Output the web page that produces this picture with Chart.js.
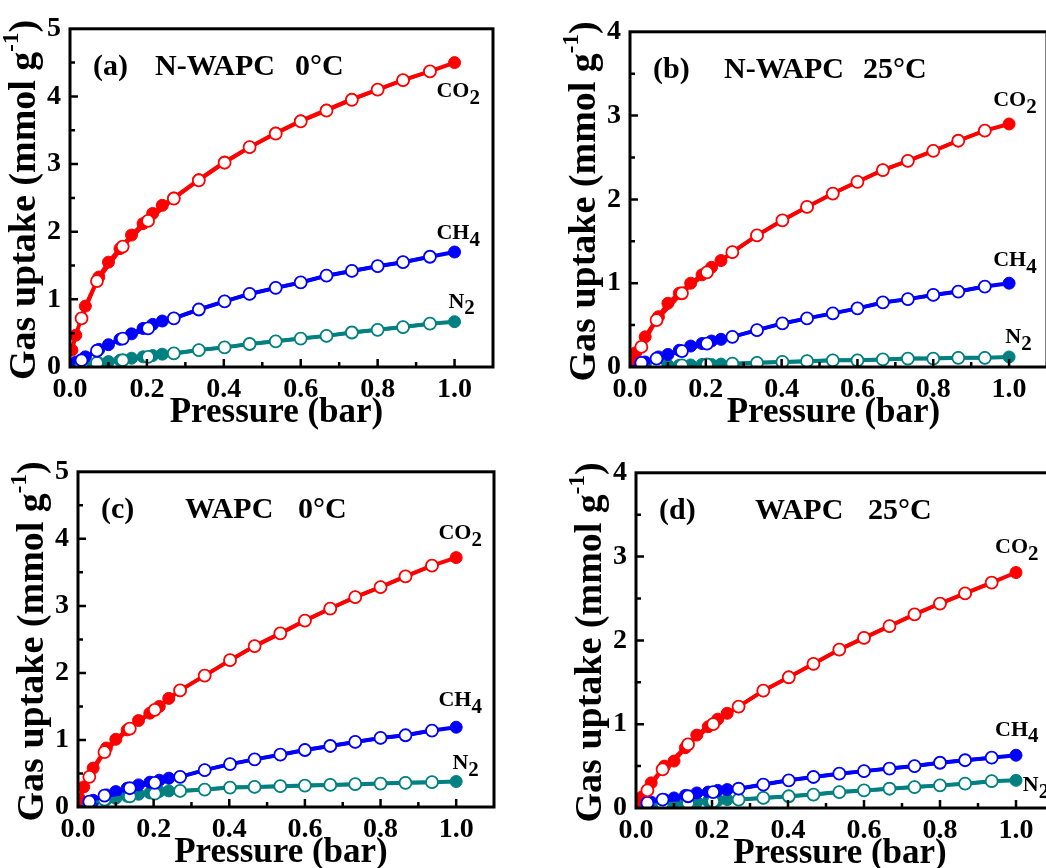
<!DOCTYPE html>
<html>
<head>
<meta charset="utf-8">
<script src="https://cdn.jsdelivr.net/npm/chart.js@4.4.0/dist/chart.umd.min.js"></script>
<style>
  html, body { margin: 0; padding: 0; background: #fff; overflow: hidden; width: 1046px; height: 868px; }
  canvas { position: absolute; }
</style>
</head>
<body>
<canvas id="c0"></canvas>
<canvas id="c1"></canvas>
<canvas id="c2"></canvas>
<canvas id="c3"></canvas>
<script>
// pressures (bar): adsorption = filled symbols, desorption = open symbols
var adsP = [0.005, 0.015, 0.04, 0.075, 0.1, 0.13, 0.16, 0.19, 0.215, 0.24, 0.27, 0.335, 0.402, 0.467, 0.535, 0.6, 0.667, 0.733, 0.8, 0.866, 0.936, 1.0];
var desP = [0.03, 0.07, 0.137, 0.203, 0.27, 0.335, 0.402, 0.467, 0.535, 0.6, 0.667, 0.733, 0.8, 0.866, 0.936];

// (a) N-WAPC 0°C
var aCO2ads = [0.25, 0.47, 0.9, 1.33, 1.55, 1.75, 1.95, 2.12, 2.27, 2.39, 2.5, 2.77, 3.03, 3.25, 3.46, 3.64, 3.8, 3.96, 4.1, 4.24, 4.37, 4.5];
var aCO2des = [0.72, 1.27, 1.78, 2.16, 2.49, 2.76, 3.02, 3.25, 3.45, 3.63, 3.79, 3.95, 4.1, 4.24, 4.37];
var aCH4ads = [0.03, 0.07, 0.15, 0.26, 0.33, 0.41, 0.49, 0.57, 0.63, 0.68, 0.72, 0.85, 0.97, 1.08, 1.17, 1.25, 1.35, 1.42, 1.49, 1.55, 1.63, 1.7];
var aCH4des = [0.1, 0.24, 0.42, 0.57, 0.72, 0.85, 0.97, 1.08, 1.17, 1.25, 1.35, 1.42, 1.49, 1.55, 1.63];
var aN2ads = [0.01, 0.02, 0.04, 0.06, 0.08, 0.1, 0.13, 0.15, 0.17, 0.19, 0.2, 0.25, 0.29, 0.34, 0.38, 0.42, 0.46, 0.51, 0.55, 0.59, 0.64, 0.67];
var aN2des = [0.03, 0.06, 0.1, 0.15, 0.2, 0.25, 0.29, 0.34, 0.38, 0.42, 0.46, 0.51, 0.55, 0.59, 0.64];

// (b) N-WAPC 25°C
var bCO2ads = [0.1, 0.17, 0.36, 0.6, 0.76, 0.88, 1.0, 1.1, 1.19, 1.27, 1.37, 1.57, 1.75, 1.91, 2.07, 2.21, 2.35, 2.46, 2.58, 2.7, 2.82, 2.9];
var bCO2des = [0.24, 0.56, 0.88, 1.13, 1.37, 1.57, 1.75, 1.91, 2.07, 2.21, 2.35, 2.46, 2.58, 2.7, 2.82];
var bCH4ads = [0.02, 0.04, 0.06, 0.12, 0.15, 0.2, 0.25, 0.28, 0.31, 0.33, 0.36, 0.44, 0.52, 0.58, 0.64, 0.7, 0.77, 0.81, 0.86, 0.9, 0.96, 1.0];
var bCH4des = [0.05, 0.1, 0.19, 0.28, 0.36, 0.44, 0.52, 0.58, 0.64, 0.7, 0.77, 0.81, 0.86, 0.9, 0.96];
var bN2ads = [0.0, 0.005, 0.01, 0.015, 0.02, 0.02, 0.025, 0.03, 0.03, 0.035, 0.04, 0.05, 0.06, 0.07, 0.08, 0.08, 0.09, 0.1, 0.1, 0.11, 0.11, 0.12];
var bN2des = [0.01, 0.01, 0.02, 0.03, 0.04, 0.05, 0.06, 0.07, 0.08, 0.08, 0.09, 0.1, 0.1, 0.11, 0.11];

// (c) WAPC 0°C
var cCO2ads = [0.12, 0.3, 0.58, 0.88, 1.01, 1.15, 1.29, 1.4, 1.5, 1.62, 1.74, 1.96, 2.19, 2.4, 2.59, 2.78, 2.96, 3.13, 3.28, 3.44, 3.6, 3.72];
var cCO2des = [0.45, 0.82, 1.17, 1.45, 1.74, 1.96, 2.19, 2.4, 2.59, 2.78, 2.96, 3.13, 3.28, 3.44, 3.6];
var cCH4ads = [0.03, 0.06, 0.1, 0.18, 0.23, 0.28, 0.33, 0.37, 0.4, 0.43, 0.45, 0.55, 0.64, 0.71, 0.78, 0.85, 0.91, 0.97, 1.03, 1.07, 1.14, 1.19];
var cCH4des = [0.08, 0.17, 0.28, 0.36, 0.45, 0.55, 0.64, 0.71, 0.78, 0.85, 0.91, 0.97, 1.03, 1.07, 1.14];
var cN2ads = [0.02, 0.04, 0.08, 0.11, 0.13, 0.16, 0.19, 0.21, 0.23, 0.24, 0.24, 0.26, 0.29, 0.3, 0.31, 0.32, 0.33, 0.34, 0.35, 0.36, 0.37, 0.38];
var cN2des = [0.06, 0.11, 0.16, 0.2, 0.24, 0.26, 0.29, 0.3, 0.31, 0.32, 0.33, 0.34, 0.35, 0.36, 0.37];

// (d) WAPC 25°C
var dCO2ads = [0.08, 0.13, 0.3, 0.5, 0.56, 0.72, 0.87, 0.97, 1.06, 1.13, 1.21, 1.4, 1.56, 1.72, 1.89, 2.03, 2.17, 2.31, 2.44, 2.56, 2.69, 2.81];
var dCO2des = [0.21, 0.46, 0.76, 1.0, 1.21, 1.4, 1.56, 1.72, 1.89, 2.03, 2.17, 2.31, 2.44, 2.56, 2.69];
var dCH4ads = [0.03, 0.05, 0.07, 0.1, 0.12, 0.15, 0.18, 0.19, 0.21, 0.22, 0.23, 0.28, 0.33, 0.37, 0.41, 0.44, 0.47, 0.5, 0.54, 0.57, 0.6, 0.63];
var dCH4des = [0.06, 0.1, 0.14, 0.19, 0.23, 0.28, 0.33, 0.37, 0.41, 0.44, 0.47, 0.5, 0.54, 0.57, 0.6];
var dN2ads = [0.01, 0.02, 0.03, 0.04, 0.05, 0.06, 0.07, 0.08, 0.09, 0.1, 0.1, 0.12, 0.14, 0.16, 0.19, 0.21, 0.23, 0.25, 0.27, 0.29, 0.32, 0.33];
var dN2des = [0.03, 0.05, 0.06, 0.08, 0.1, 0.12, 0.14, 0.16, 0.19, 0.21, 0.23, 0.25, 0.27, 0.29, 0.32];

var panelTags = ['(a)', '(b)', '(c)', '(d)'];
var panelSamples = ['N-WAPC', 'N-WAPC', 'WAPC', 'WAPC'];
var panelTemps = ['0°C', '25°C', '0°C', '25°C'];
var yMaxes = [5, 4, 5, 4];
var gasNames = [['CO', '2'], ['CH', '4'], ['N', '2']];
// where the gas names sit, in axis units (left edge, middle)
var gasLabelX = [[0.953, 0.953, 0.984], [0.958, 0.958, 0.99], [0.953, 0.953, 0.99], [0.945, 0.945, 1.018]];
var gasLabelY = [[4.07, 1.97, 0.96], [3.18, 1.27, 0.35], [4.08, 1.59, 0.65], [3.11, 0.93, 0.27]];

var series = [
  [[aCO2ads, aCO2des], [aCH4ads, aCH4des], [aN2ads, aN2des]],
  [[bCO2ads, bCO2des], [bCH4ads, bCH4des], [bN2ads, bN2des]],
  [[cCO2ads, cCO2des], [cCH4ads, cCH4des], [cN2ads, cN2des]],
  [[dCO2ads, dCO2des], [dCH4ads, dCH4des], [dN2ads, dN2des]]
];

// layout: plot area of each panel on the page [left, top, right, bottom]
var plotBoxes = [[70, 28, 493, 367], [630, 31, 1047, 367], [78, 471, 494, 807], [636, 472, 1054, 808]];
var sampleOffset = [85, 94, 107, 119];
var tempOffset = [225, 233, 220, 232];
var colors = ['#ff0000', '#0000ff', '#008080'];
var serif = '"Liberation Serif", "Times New Roman", serif';
var padL = 75, padT = 25, padR = 15, padB = 75;

function subText(ctx, x, y, main, sub, size, subSize, shift) {
  ctx.font = 'bold ' + size + 'px ' + serif;
  ctx.fillText(main, x, y);
  var w = ctx.measureText(main).width;
  ctx.font = 'bold ' + subSize + 'px ' + serif;
  ctx.fillText(sub, x + w, y + shift);
}

var panelPlugin = {
  id: 'panel',
  afterDatasetsDraw: function(chart) {
    var ctx = chart.ctx, a = chart.chartArea;
    var xs = chart.scales.x, ys = chart.scales.y;
    var i = chart.options.plugins.panel.idx;
    ctx.save();
    ctx.strokeStyle = '#000';
    ctx.lineWidth = 3;
    ctx.strokeRect(a.left, a.top, a.right - a.left, a.bottom - a.top);
    // inward ticks
    ctx.lineWidth = 2.5;
    ctx.beginPath();
    for (var k = 1; k <= 10; k++) {
      var px = xs.getPixelForValue(k / 10);
      var len = k % 2 === 0 ? 8 : 5;
      ctx.moveTo(px, a.bottom);
      ctx.lineTo(px, a.bottom - len);
    }
    for (var m = 1; m < yMaxes[i] * 2; m++) {
      var py = ys.getPixelForValue(m / 2);
      var ln = m % 2 === 0 ? 8 : 5;
      ctx.moveTo(a.left, py);
      ctx.lineTo(a.left + ln, py);
    }
    ctx.stroke();
    ctx.restore();
  },
  afterDraw: function(chart) {
    var ctx = chart.ctx, a = chart.chartArea;
    var xs = chart.scales.x, ys = chart.scales.y;
    var i = chart.options.plugins.panel.idx;
    ctx.save();
    ctx.fillStyle = '#000';
    ctx.textBaseline = 'middle';
    ctx.textAlign = 'left';

    // panel caption
    ctx.font = 'bold 30px ' + serif;
    var ty = a.top + 38;
    ctx.fillText(panelTags[i], a.left + 23, ty);
    ctx.fillText(panelSamples[i], a.left + sampleOffset[i], ty);
    ctx.fillText(panelTemps[i], a.left + tempOffset[i], ty);

    // gas names
    for (var g = 0; g < 3; g++) {
      var gx = xs.getPixelForValue(gasLabelX[i][g]);
      var gy = ys.getPixelForValue(gasLabelY[i][g]);
      subText(ctx, gx, gy, gasNames[g][0], gasNames[g][1], 22, 21, 7);
    }

    // x title
    ctx.textAlign = 'center';
    ctx.font = 'bold 35px ' + serif;
    ctx.fillText('Pressure (bar)', (a.left + a.right) / 2 - 5, a.bottom + 46);

    // y title with superscript
    ctx.translate(a.left - 45, (a.top + a.bottom) / 2 + 2);
    ctx.rotate(-Math.PI / 2);
    ctx.textAlign = 'left';
    var p1 = 'Gas uptake (mmol g', p2 = '-1', p3 = ')';
    ctx.font = 'bold 38px ' + serif;
    var w1 = ctx.measureText(p1).width, w3 = ctx.measureText(p3).width;
    ctx.font = 'bold 23px ' + serif;
    var w2 = ctx.measureText(p2).width;
    var x0 = -(w1 + w2 + w3) / 2;
    ctx.font = 'bold 38px ' + serif;
    ctx.fillText(p1, x0, 0);
    ctx.fillText(p3, x0 + w1 + w2, 0);
    ctx.font = 'bold 23px ' + serif;
    ctx.fillText(p2, x0 + w1, -13);
    ctx.restore();
  }
};

function makeChart(i) {
  var box = plotBoxes[i];
  var cv = document.getElementById('c' + i);
  cv.width = box[2] - box[0] + padL + padR;
  cv.height = box[3] - box[1] + padT + padB;
  cv.style.left = (box[0] - padL) + 'px';
  cv.style.top = (box[1] - padT) + 'px';

  var datasets = [];
  // open symbols first so they sit on top
  for (var g = 0; g < 3; g++) {
    datasets.push({
      data: desP.map(function(p, k) { return { x: p, y: series[i][g][1][k] }; }),
      borderColor: colors[g],
      borderWidth: 3.5,
      pointRadius: 6,
      pointBorderWidth: 1.8,
      pointBorderColor: colors[g],
      pointBackgroundColor: '#fff'
    });
  }
  for (var h = 0; h < 3; h++) {
    datasets.push({
      data: adsP.map(function(p, k) { return { x: p, y: series[i][h][0][k] }; }),
      borderColor: colors[h],
      borderWidth: 4,
      pointRadius: 6,
      pointBorderWidth: 1,
      pointBorderColor: colors[h],
      pointBackgroundColor: colors[h]
    });
  }

  var tickFont = { family: serif, size: 28, weight: 'bold' };
  new Chart(cv, {
    type: 'line',
    data: { datasets: datasets },
    options: {
      responsive: false,
      animation: false,
      layout: { padding: { top: padT, right: padR, left: 0, bottom: 0 } },
      elements: { line: { tension: 0 } },
      plugins: { legend: { display: false }, tooltip: { enabled: false }, panel: { idx: i } },
      scales: {
        x: {
          type: 'linear', min: 0, max: 1.1,
          grid: { display: false, drawTicks: false },
          border: { display: false },
          ticks: { stepSize: 0.2, includeBounds: false, padding: 6, color: '#000', font: tickFont, maxRotation: 0, autoSkip: false,
                   callback: function(v) { return v.toFixed(1); } },
          afterFit: function(s) { s.height = padB; }
        },
        y: {
          type: 'linear', min: 0, max: yMaxes[i],
          grid: { display: false, drawTicks: false },
          border: { display: false },
          ticks: { stepSize: 1, padding: 9, color: '#000', font: tickFont },
          afterFit: function(s) { s.width = padL; }
        }
      }
    },
    plugins: [panelPlugin]
  });
}

for (var n = 0; n < 4; n++) makeChart(n);
</script>
</body>
</html>
